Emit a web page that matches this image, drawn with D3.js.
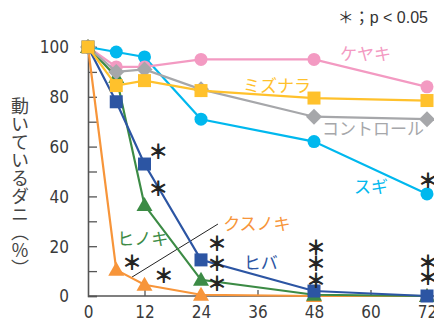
<!DOCTYPE html>
<html><head><meta charset="utf-8">
<script src="https://cdn.jsdelivr.net/npm/d3@7"></script>
<style>
html,body{margin:0;padding:0;background:#fff;overflow:hidden}
svg{display:block}
.tick text{font-family:"Liberation Sans Narrow","DejaVu Sans Condensed","Liberation Sans",sans-serif;font-size:17px;fill:#3a3a3a}
</style></head>
<body>
<script>
const hours = [0, 6, 12, 24, 48, 72];
const xTicks = [0, 12, 24, 36, 48, 60, 72];
const yTicks = [0, 20, 40, 60, 80, 100];
const seriesNames = ["スギ", "ケヤキ", "クスノキ", "ヒノキ", "コントロール", "ヒバ", "ミズナラ"];
const sugi      = [100, 98, 96, 71, 62, 41];
const keyaki    = [100, 92, 92, 95, 95, 84];
const kusunoki  = [100, 10.5, 4.5, 0.5, 0, 0];
const hinoki    = [100, 88, 36.5, 6.5, 0.5, 0];
const control   = [100, 90, 91, 83, 72, 71];
const hiba      = [100, 78, 53, 14.5, 2, 0];
const mizunara  = [100, 84.5, 86.5, 82.5, 79.5, 78.5];
const seriesValues = [sugi, keyaki, kusunoki, hinoki, control, hiba, mizunara];
const markers = ["circle", "circle", "triangle", "triangle", "diamond", "square", "square"];
const colors = ["#00B8EE", "#F39AC2", "#F7953A", "#3C8B45", "#A6A7AA", "#2C55A3", "#FFC12C"];
// series label anchor positions (hour, value)
const labelPos = [[56.5, 44.2], [53.5, 97.6], [28.7, 29.7], [6.2, 23.3], [49.7, 67.5], [33.1, 13.7], [32.9, 85.1]];
// significance marks: [hour, value]
const sigMarks = [[14.9, 58.6], [14.9, 43.4], [9.35, 13.7], [16.1, 8.8],
  [27.4, 21.3], [27.4, 13.3], [27.4, 5.6],
  [48.4, 19.7], [48.4, 13.3], [48.4, 6.8],
  [72.2, 46.6], [72.2, 13.7], [72.2, 8.0]];

const W = 434, H = 324;
const svg = d3.select("body").append("svg").attr("width", W).attr("height", H);
const x = d3.scaleLinear().domain([0, 72]).range([88, 427]);
const y = d3.scaleLinear().domain([0, 100]).range([296, 47]);

// axes
const yAxis = d3.axisLeft(y).tickValues(d3.range(0, 101, 10)).tickSize(-9)
  .tickFormat(d => yTicks.includes(d) ? d : "").tickPadding(19);
const gy = svg.append("g").attr("transform", "translate(88,0)").call(yAxis);
const xAxis = d3.axisBottom(x).tickValues(xTicks).tickSize(-6).tickPadding(10);
const gx = svg.append("g").attr("transform", "translate(0,296)").call(xAxis);
[gy, gx].forEach(g => {
  g.select(".domain").attr("stroke", "#555").attr("stroke-width", 1.6);
  g.selectAll(".tick line").attr("stroke", "#555").attr("stroke-width", 1.3);
});
gx.select(".domain").attr("d", "M88,0H434");
gx.selectAll(".tick").filter(d => d === 0).select("line").remove();
gy.selectAll(".tick text").attr("dy", "0.35em");
gx.selectAll(".tick text").attr("dy", "0.71em");

// leader line for クスノキ
svg.append("line").attr("x1", x(9.35)).attr("y1", y(7.6)).attr("x2", x(27.6)).attr("y2", y(28.9))
  .attr("stroke", "#222").attr("stroke-width", 1);

const line = d3.line().x((d, i) => x(hours[i])).y(d => y(d));
seriesValues.forEach((vals, s) => {
  const g = svg.append("g");
  g.append("path").attr("d", line(vals)).attr("fill", "none").attr("stroke", colors[s]).attr("stroke-width", 2.2);
  const m = markers[s];
  vals.forEach((v, i) => {
    const cx = x(hours[i]), cy = y(v);
    if (m === "circle") g.append("circle").attr("cx", cx).attr("cy", cy).attr("r", 6.5).attr("fill", colors[s]);
    else if (m === "square") g.append("rect").attr("x", cx - 6.5).attr("y", cy - 6.5).attr("width", 13).attr("height", 13).attr("fill", colors[s]);
    else if (m === "diamond") g.append("path").attr("d", `M${cx},${cy-8}L${cx+8},${cy}L${cx},${cy+8}L${cx-8},${cy}Z`).attr("fill", colors[s]);
    else g.append("path").attr("d", `M${cx},${cy-8}L${cx+8},${cy+6}L${cx-8},${cy+6}Z`).attr("fill", colors[s]);
  });
});

// series labels
seriesNames.forEach((n, s) => {
  svg.append("text").attr("x", x(labelPos[s][0])).attr("y", y(labelPos[s][1]))
    .attr("font-family", "'Noto Sans CJK JP',sans-serif").attr("font-size", 17)
    .attr("fill", colors[s]).attr("dominant-baseline", "central").text(n);
});

// significance marks
sigMarks.forEach(p => {
  svg.append("text").attr("x", x(p[0])).attr("y", y(p[1])).attr("text-anchor", "middle")
    .attr("dominant-baseline", "central").attr("font-family", "'Noto Sans CJK JP',sans-serif")
    .attr("font-size", 19).attr("fill", "#222").attr("stroke", "#222").attr("stroke-width", 0.9)
    .text("＊");
});

// note
svg.append("text").attr("x", 428).attr("y", 17).attr("text-anchor", "end").attr("dominant-baseline", "central")
  .attr("font-family", "'Liberation Sans','Noto Sans CJK JP',sans-serif").attr("font-size", 16).attr("fill", "#333").text("＊；p < 0.05");

// y title vertical
svg.append("text").attr("x", 20).attr("y", 97).attr("writing-mode", "vertical-rl")
  .style("writing-mode", "vertical-rl")
  .attr("font-family", "'Noto Sans CJK JP',sans-serif").attr("font-size", 18).attr("fill", "#444")
  .text("動いているダニ（％）");
</script>
</body></html>
